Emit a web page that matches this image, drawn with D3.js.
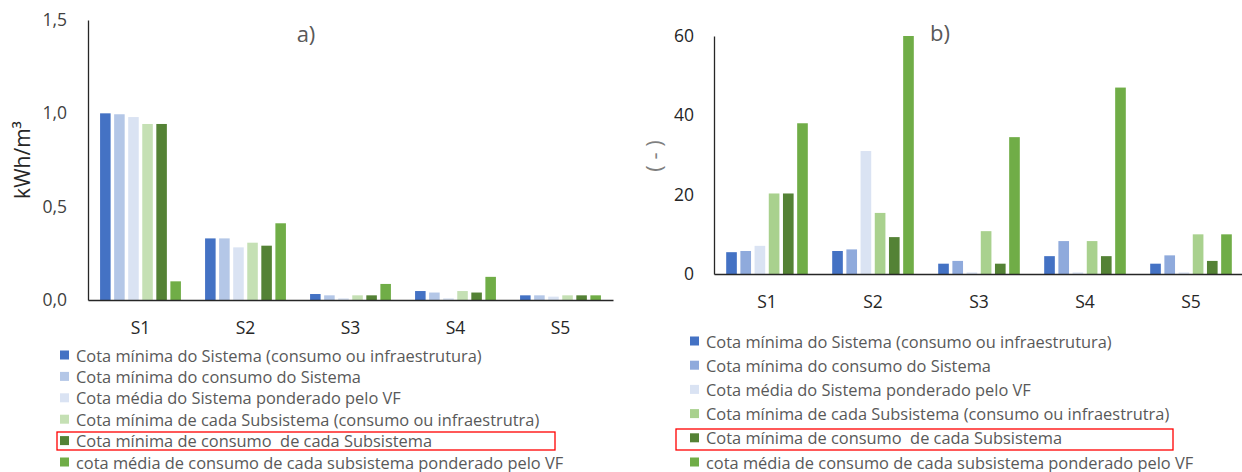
<!DOCTYPE html>
<html>
<head>
<meta charset="utf-8">
<script src="https://cdn.jsdelivr.net/npm/d3@7"></script>
<style>
  html, body { margin: 0; padding: 0; background: #fff; }
  svg { display: block; font-family: "Open Sans", "Noto Sans", sans-serif; }
  .leg { white-space: pre; }
</style>
</head>
<body>
<svg id="chart" width="1242" height="472"></svg>
<script>
// Categories (subsystems)
const categories = ["S1", "S2", "S3", "S4", "S5"];

// Series names (legend)
const seriesNames = [
  "Cota mínima do Sistema (consumo ou infraestrutura)",
  "Cota mínima do consumo do Sistema",
  "Cota média do Sistema ponderado pelo VF",
  "Cota mínima de cada Subsistema (consumo ou infraestrutra)",
  "Cota mínima de consumo  de cada Subsistema",
  "cota média de consumo de cada subsistema ponderado pelo VF"
];

// Panel a) specific energy, kWh/m³ — one array per series, values for S1..S5
const a_minSistema      = [1.00, 0.33, 0.032, 0.048, 0.025];
const a_minConsSistema  = [0.995, 0.33, 0.025, 0.040, 0.025];
const a_medSistemaVF    = [0.98, 0.282, 0.009, 0.009, 0.018];
const a_minSubsistema   = [0.943, 0.307, 0.025, 0.048, 0.025];
const a_minConsSubsist  = [0.943, 0.291, 0.025, 0.040, 0.025];
const a_medConsSubVF    = [0.10, 0.411, 0.086, 0.124, 0.025];

// Panel b) dimensionless, (-)
const b_minSistema      = [5.5, 5.8, 2.6, 4.5, 2.6];
const b_minConsSistema  = [5.8, 6.2, 3.3, 8.3, 4.7];
const b_medSistemaVF    = [7.1, 31.0, 0.4, 0.4, 0.4];
const b_minSubsistema   = [20.3, 15.4, 10.8, 8.3, 10.0];
const b_minConsSubsist  = [20.3, 9.3, 2.6, 4.5, 3.3];
const b_medConsSubVF    = [38.0, 60.0, 34.5, 47.0, 10.0];

// Axis ticks
const a_ticks = [0, 0.5, 1.0, 1.5];
const b_ticks = [0, 20, 40, 60];

const colorsA = ["#4472C4", "#B4C7E7", "#DAE3F3", "#C5E0B4", "#548235", "#70AD47"];
const colorsB = ["#4472C4", "#8FAADC", "#DAE3F3", "#A9D18E", "#548235", "#70AD47"];

const seriesA = [a_minSistema, a_minConsSistema, a_medSistemaVF, a_minSubsistema, a_minConsSubsist, a_medConsSubVF];
const seriesB = [b_minSistema, b_minConsSistema, b_medSistemaVF, b_minSubsistema, b_minConsSubsist, b_medConsSubVF];

const svg = d3.select("#chart");
const fmtComma = d => d3.format(".1f")(d).replace(".", ",");

function panel(cfg) {
  const g = svg.append("g");
  const x = d3.scaleBand().domain(categories).range([cfg.x0, cfg.x1])
    .paddingInner(0.23).paddingOuter(0.115);
  const xs = d3.scaleBand().domain(d3.range(seriesNames.length))
    .range([0, x.bandwidth()]).paddingInner(0.25);
  const y = d3.scaleLinear().domain([0, cfg.max]).range([cfg.yBase, cfg.yTop]);

  // bars
  const rows = categories.map((c, i) => ({ c, vals: cfg.series.map(s => s[i]) }));
  g.selectAll("g.cat").data(rows).join("g")
    .attr("transform", d => `translate(${x(d.c)},0)`)
    .selectAll("rect").data(d => d.vals.map((v, k) => ({ v, k })))
    .join("rect")
    .attr("x", d => xs(d.k))
    .attr("width", xs.bandwidth())
    .attr("y", d => y(d.v))
    .attr("height", d => y(0) - y(d.v))
    .attr("fill", d => cfg.colors[d.k]);

  // y axis (line + labels, no tick marks)
  const yAxis = d3.axisLeft(y).tickValues(cfg.ticks).tickSize(0).tickPadding(cfg.tickPad)
    .tickFormat(cfg.fmt);
  const ya = g.append("g").attr("transform", `translate(${cfg.x0},0)`).call(yAxis);
  ya.select(".domain").attr("stroke", "#262626").attr("stroke-width", 1.3);
  ya.selectAll("text").attr("font-size", 17.5).attr("fill", cfg.tickColor)
    .attr("font-family", "'Open Sans', sans-serif");

  // x axis
  const xAxis = d3.axisBottom(x).tickSize(0).tickPadding(cfg.xPad);
  const xa = g.append("g").attr("transform", `translate(0,${cfg.yBase})`).call(xAxis);
  xa.select(".domain").attr("stroke", "#262626").attr("stroke-width", 1.5);
  xa.selectAll("text").attr("font-size", 17.5).attr("fill", "#262626")
    .attr("font-family", "'Open Sans', sans-serif");

  // panel title
  g.append("text").attr("x", cfg.titleX).attr("y", cfg.titleY)
    .attr("text-anchor", "middle").attr("font-size", 22).attr("fill", "#595959")
    .text(cfg.title);

  // y label
  g.append("text")
    .attr("transform", `translate(${cfg.ylabX},${cfg.ylabY}) rotate(-90)`)
    .attr("text-anchor", "middle").attr("dominant-baseline", "middle")
    .attr("font-size", cfg.ylabSize).attr("fill", cfg.ylabColor)
    .text(cfg.ylab);

  // legend
  const lg = g.append("g");
  seriesNames.forEach((name, k) => {
    const cy = cfg.legY0 + k * cfg.legStep;
    lg.append("rect").attr("x", cfg.legX).attr("y", cy - 4.5)
      .attr("width", 9).attr("height", 9).attr("fill", cfg.colors[k]);
    lg.append("text").attr("class", "leg").attr("x", cfg.legX + 16).attr("y", cy)
      .attr("dominant-baseline", "central")
      .attr("font-size", 16.4).attr("fill", "#595959")
      .text(name);
  });
  // highlight box around the subsystem consumption entry
  lg.append("rect").attr("x", cfg.box[0]).attr("y", cfg.box[1])
    .attr("width", cfg.box[2]).attr("height", cfg.box[3])
    .attr("fill", "none").attr("stroke", "#FF0000").attr("stroke-width", 1.3);
}

panel({
  series: seriesA, colors: colorsA, max: 1.5, ticks: a_ticks, fmt: fmtComma,
  x0: 88, x1: 613, yBase: 300, yTop: 20, tickPad: 21, xPad: 22,
  tickColor: "#404040",
  title: "a)", titleX: 306, titleY: 42,
  ylab: "kWh/m³", ylabX: 24, ylabY: 160, ylabColor: "#262626", ylabSize: 21,
  legX: 60, legY0: 355, legStep: 21.4,
  box: [57, 432, 498, 18]
});

panel({
  series: seriesB, colors: colorsB, max: 60, ticks: b_ticks, fmt: d3.format("d"),
  x0: 714, x1: 1244, yBase: 274, yTop: 36, tickPad: 20, xPad: 22,
  tickColor: "#262626",
  title: "b)", titleX: 940, titleY: 41,
  ylab: "( - )", ylabX: 656, ylabY: 156, ylabColor: "#7F7F7F", ylabSize: 22,
  legX: 690, legY0: 341, legStep: 24.2,
  box: [676, 429, 497, 21]
});
</script>
</body>
</html>
